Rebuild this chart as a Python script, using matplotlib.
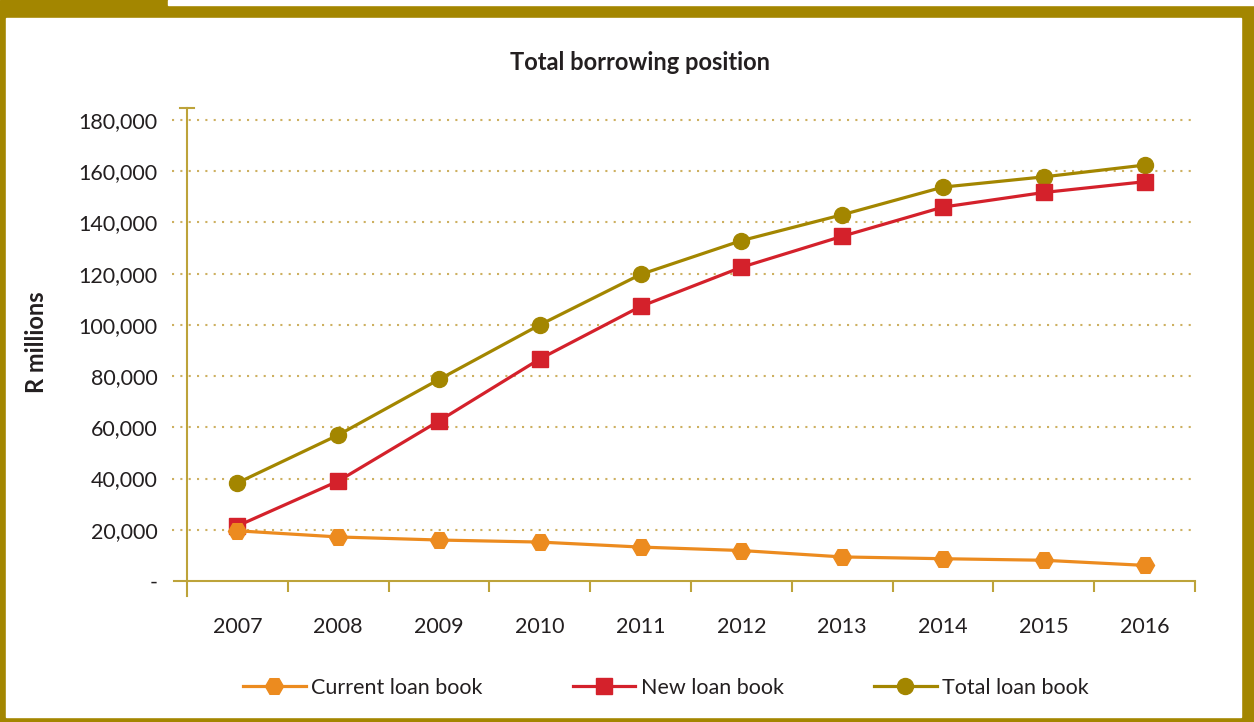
import matplotlib.pyplot as plt
from matplotlib.patches import Rectangle
import numpy as np

plt.rcParams['font.family'] = ['Lato', 'DejaVu Sans']

years = ['2007', '2008', '2009', '2010', '2011', '2012', '2013', '2014', '2015', '2016']
current_loan = [19600, 17200, 16000, 15200, 13250, 11900, 9400, 8700, 8100, 6100]
new_loan = [21500, 39000, 62500, 86700, 107200, 122500, 134600, 146000, 151700, 155900]
total_loan = [38300, 57000, 78700, 100000, 119700, 132900, 143000, 153800, 157800, 162400]
y_ticks = [0, 20000, 40000, 60000, 80000, 100000, 120000, 140000, 160000, 180000]
y_labels = ['-'] + [f'{v:,}' for v in y_ticks[1:]]

gold = '#A38600'
red = '#D4212B'
orange = '#EC8B1F'
axis_col = '#BDA33A'
grid_col = '#CDB060'
text_col = '#231F20'

fig = plt.figure(figsize=(12.54, 7.22), dpi=100)

# gold frame behind everything
fig.patches.append(Rectangle((0, 0), 1, 1, transform=fig.transFigure, color=gold, zorder=-3))
fig.patches.append(Rectangle((6 / 1254, 5 / 722), (1241 - 6) / 1254, (717 - 18) / 722,
                             transform=fig.transFigure, color='white', zorder=-2))
fig.patches.append(Rectangle((168 / 1254, 717 / 722), 1 - 168 / 1254, 5 / 722,
                             transform=fig.transFigure, color='white', zorder=-2))

ax = fig.add_axes([187 / 1254, 1 - 581 / 722, (1195 - 187) / 1254, (581 - 120) / 722])
ax.set_facecolor('none')

x = np.arange(len(years)) + 0.5
ax.plot(x, current_loan, color=orange, lw=2.3, marker='H', ms=13, label='Current loan book', zorder=5)
ax.plot(x, new_loan, color=red, lw=2.3, marker='s', ms=11.5, label='New loan book', zorder=4)
ax.plot(x, total_loan, color=gold, lw=2.3, marker='o', ms=11.5, label='Total loan book', zorder=3)

ax.set_xlim(0, len(years))
ax.set_ylim(0, 180000)

for v in y_ticks[1:]:
    ax.axhline(v, xmin=-0.015, xmax=1, color=grid_col, lw=1.5, ls=(0, (1, 3)), clip_on=False, zorder=1)

for s in ax.spines.values():
    s.set_visible(False)
# axis lines
ax.plot([0, 0], [-0.033, 1.026], transform=ax.transAxes, color=axis_col, lw=1.5, clip_on=False)
ax.plot([-0.007, 0.007], [1.026, 1.026], transform=ax.transAxes, color=axis_col, lw=1.5, clip_on=False)
ax.plot([-0.013, 1], [0, 0], transform=ax.transAxes, color=axis_col, lw=1.5, clip_on=False)

ax.set_yticks(y_ticks)
ax.set_yticklabels(y_labels)
ax.tick_params(axis='y', length=0, pad=21, labelsize=15.5, labelcolor=text_col)

ax.set_xticks(np.arange(1, len(years) + 1))
ax.set_xticklabels([])
ax.tick_params(axis='x', which='major', direction='out', length=8, width=1.5, color=axis_col)
ax.set_xticks(x, minor=True)
ax.set_xticklabels(years, minor=True)
ax.tick_params(axis='x', which='minor', length=0, pad=26, labelsize=15.5, labelcolor=text_col)

fig.text(640 / 1254, 1 - 62 / 722, 'Total borrowing position', ha='center', va='center',
         fontsize=17, fontweight='bold', color=text_col)
fig.text(37 / 1254, 1 - 342 / 722, 'R millions', ha='center', va='center', rotation=90,
         fontsize=17, fontweight='bold', color=text_col)

fig.legend(loc='center', bbox_to_anchor=(666 / 1254, 1 - 688 / 722), ncol=3, frameon=False,
           fontsize=15.5, handlelength=2.9, handletextpad=0.25, columnspacing=4.2,
           labelcolor=text_col)

fig.savefig('out.png', dpi=100)
